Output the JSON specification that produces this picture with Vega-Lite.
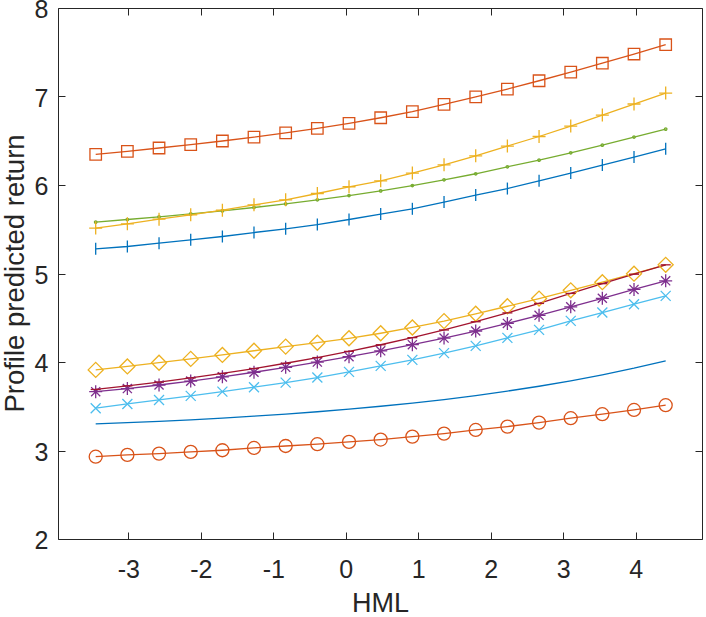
{
  "$schema": "https://vega.github.io/schema/vega-lite/v6.json",
  "width": 644,
  "height": 531,
  "autosize": {"type": "none"},
  "padding": {"left": 58, "top": 8, "right": 4, "bottom": 78},
  "background": "white",
  "config": {
    "view": {"stroke": "#262626", "strokeWidth": 1},
    "font": "Liberation Sans",
    "axis": {
      "grid": false,
      "domain": false,
      "tickColor": "#262626",
      "tickSize": -7,
      "tickWidth": 1,
      "labelColor": "#262626",
      "labelFont": "Liberation Sans",
      "labelFontSize": 25,
      "titleColor": "#262626",
      "titleFont": "Liberation Sans",
      "titleFontWeight": "normal"
    }
  },
  "data": {
    "values": [
      {"s": "plain", "x": -3.45, "y": 3.300}, {"s": "plain", "x": -3.013, "y": 3.314}, {"s": "plain", "x": -2.576, "y": 3.330}, {"s": "plain", "x": -2.139, "y": 3.347}, {"s": "plain", "x": -1.702, "y": 3.366}, {"s": "plain", "x": -1.266, "y": 3.388}, {"s": "plain", "x": -0.829, "y": 3.412}, {"s": "plain", "x": -0.392, "y": 3.438}, {"s": "plain", "x": 0.045, "y": 3.467}, {"s": "plain", "x": 0.482, "y": 3.500}, {"s": "plain", "x": 0.919, "y": 3.536}, {"s": "plain", "x": 1.356, "y": 3.576}, {"s": "plain", "x": 1.793, "y": 3.621}, {"s": "plain", "x": 2.23, "y": 3.671}, {"s": "plain", "x": 2.667, "y": 3.726}, {"s": "plain", "x": 3.104, "y": 3.787}, {"s": "plain", "x": 3.54, "y": 3.855}, {"s": "plain", "x": 3.977, "y": 3.930}, {"s": "plain", "x": 4.414, "y": 4.014},
      {"s": "circle", "x": -3.45, "y": 2.930}, {"s": "circle", "x": -3.013, "y": 2.950}, {"s": "circle", "x": -2.576, "y": 2.965}, {"s": "circle", "x": -2.139, "y": 2.984}, {"s": "circle", "x": -1.702, "y": 3.003}, {"s": "circle", "x": -1.266, "y": 3.029}, {"s": "circle", "x": -0.829, "y": 3.051}, {"s": "circle", "x": -0.392, "y": 3.071}, {"s": "circle", "x": 0.045, "y": 3.097}, {"s": "circle", "x": 0.482, "y": 3.124}, {"s": "circle", "x": 0.919, "y": 3.157}, {"s": "circle", "x": 1.356, "y": 3.191}, {"s": "circle", "x": 1.793, "y": 3.232}, {"s": "circle", "x": 2.23, "y": 3.270}, {"s": "circle", "x": 2.667, "y": 3.315}, {"s": "circle", "x": 3.104, "y": 3.365}, {"s": "circle", "x": 3.54, "y": 3.410}, {"s": "circle", "x": 3.977, "y": 3.458}, {"s": "circle", "x": 4.414, "y": 3.512},
      {"s": "diamond", "x": -3.45, "y": 3.911}, {"s": "diamond", "x": -3.013, "y": 3.950}, {"s": "diamond", "x": -2.576, "y": 3.992}, {"s": "diamond", "x": -2.139, "y": 4.035}, {"s": "diamond", "x": -1.702, "y": 4.080}, {"s": "diamond", "x": -1.266, "y": 4.127}, {"s": "diamond", "x": -0.829, "y": 4.174}, {"s": "diamond", "x": -0.392, "y": 4.218}, {"s": "diamond", "x": 0.045, "y": 4.268}, {"s": "diamond", "x": 0.482, "y": 4.325}, {"s": "diamond", "x": 0.919, "y": 4.390}, {"s": "diamond", "x": 1.356, "y": 4.462}, {"s": "diamond", "x": 1.793, "y": 4.545}, {"s": "diamond", "x": 2.23, "y": 4.630}, {"s": "diamond", "x": 2.667, "y": 4.717}, {"s": "diamond", "x": 3.104, "y": 4.810}, {"s": "diamond", "x": 3.54, "y": 4.902}, {"s": "diamond", "x": 3.977, "y": 4.998}, {"s": "diamond", "x": 4.414, "y": 5.098},
      {"s": "asterisk", "x": -3.45, "y": 3.665}, {"s": "asterisk", "x": -3.013, "y": 3.700}, {"s": "asterisk", "x": -2.576, "y": 3.740}, {"s": "asterisk", "x": -2.139, "y": 3.784}, {"s": "asterisk", "x": -1.702, "y": 3.832}, {"s": "asterisk", "x": -1.266, "y": 3.884}, {"s": "asterisk", "x": -0.829, "y": 3.940}, {"s": "asterisk", "x": -0.392, "y": 3.999}, {"s": "asterisk", "x": 0.045, "y": 4.060}, {"s": "asterisk", "x": 0.482, "y": 4.126}, {"s": "asterisk", "x": 0.919, "y": 4.196}, {"s": "asterisk", "x": 1.356, "y": 4.270}, {"s": "asterisk", "x": 1.793, "y": 4.350}, {"s": "asterisk", "x": 2.23, "y": 4.436}, {"s": "asterisk", "x": 2.667, "y": 4.527}, {"s": "asterisk", "x": 3.104, "y": 4.623}, {"s": "asterisk", "x": 3.54, "y": 4.720}, {"s": "asterisk", "x": 3.977, "y": 4.820}, {"s": "asterisk", "x": 4.414, "y": 4.917},
      {"s": "dot", "x": -3.45, "y": 5.581}, {"s": "dot", "x": -3.013, "y": 5.610}, {"s": "dot", "x": -2.576, "y": 5.640}, {"s": "dot", "x": -2.139, "y": 5.674}, {"s": "dot", "x": -1.702, "y": 5.708}, {"s": "dot", "x": -1.266, "y": 5.746}, {"s": "dot", "x": -0.829, "y": 5.787}, {"s": "dot", "x": -0.392, "y": 5.833}, {"s": "dot", "x": 0.045, "y": 5.881}, {"s": "dot", "x": 0.482, "y": 5.934}, {"s": "dot", "x": 0.919, "y": 5.994}, {"s": "dot", "x": 1.356, "y": 6.059}, {"s": "dot", "x": 1.793, "y": 6.127}, {"s": "dot", "x": 2.23, "y": 6.206}, {"s": "dot", "x": 2.667, "y": 6.281}, {"s": "dot", "x": 3.104, "y": 6.364}, {"s": "dot", "x": 3.54, "y": 6.451}, {"s": "dot", "x": 3.977, "y": 6.542}, {"s": "dot", "x": 4.414, "y": 6.632},
      {"s": "cross", "x": -3.45, "y": 3.478}, {"s": "cross", "x": -3.013, "y": 3.526}, {"s": "cross", "x": -2.576, "y": 3.571}, {"s": "cross", "x": -2.139, "y": 3.617}, {"s": "cross", "x": -1.702, "y": 3.665}, {"s": "cross", "x": -1.266, "y": 3.715}, {"s": "cross", "x": -0.829, "y": 3.767}, {"s": "cross", "x": -0.392, "y": 3.824}, {"s": "cross", "x": 0.045, "y": 3.888}, {"s": "cross", "x": 0.482, "y": 3.956}, {"s": "cross", "x": 0.919, "y": 4.024}, {"s": "cross", "x": 1.356, "y": 4.100}, {"s": "cross", "x": 1.793, "y": 4.182}, {"s": "cross", "x": 2.23, "y": 4.273}, {"s": "cross", "x": 2.667, "y": 4.363}, {"s": "cross", "x": 3.104, "y": 4.465}, {"s": "cross", "x": 3.54, "y": 4.559}, {"s": "cross", "x": 3.977, "y": 4.653}, {"s": "cross", "x": 4.414, "y": 4.747},
      {"s": "dash", "x": -3.45, "y": 3.690}, {"s": "dash", "x": -3.013, "y": 3.730}, {"s": "dash", "x": -2.576, "y": 3.773}, {"s": "dash", "x": -2.139, "y": 3.820}, {"s": "dash", "x": -1.702, "y": 3.871}, {"s": "dash", "x": -1.266, "y": 3.926}, {"s": "dash", "x": -0.829, "y": 3.986}, {"s": "dash", "x": -0.392, "y": 4.050}, {"s": "dash", "x": 0.045, "y": 4.120}, {"s": "dash", "x": 0.482, "y": 4.195}, {"s": "dash", "x": 0.919, "y": 4.275}, {"s": "dash", "x": 1.356, "y": 4.362}, {"s": "dash", "x": 1.793, "y": 4.455}, {"s": "dash", "x": 2.23, "y": 4.555}, {"s": "dash", "x": 2.667, "y": 4.662}, {"s": "dash", "x": 3.104, "y": 4.775}, {"s": "dash", "x": 3.54, "y": 4.885}, {"s": "dash", "x": 3.977, "y": 4.992}, {"s": "dash", "x": 4.414, "y": 5.098},
      {"s": "vbar", "x": -3.45, "y": 5.279}, {"s": "vbar", "x": -3.013, "y": 5.305}, {"s": "vbar", "x": -2.576, "y": 5.343}, {"s": "vbar", "x": -2.139, "y": 5.380}, {"s": "vbar", "x": -1.702, "y": 5.418}, {"s": "vbar", "x": -1.266, "y": 5.463}, {"s": "vbar", "x": -0.829, "y": 5.505}, {"s": "vbar", "x": -0.392, "y": 5.553}, {"s": "vbar", "x": 0.045, "y": 5.610}, {"s": "vbar", "x": 0.482, "y": 5.671}, {"s": "vbar", "x": 0.919, "y": 5.731}, {"s": "vbar", "x": 1.356, "y": 5.807}, {"s": "vbar", "x": 1.793, "y": 5.886}, {"s": "vbar", "x": 2.23, "y": 5.960}, {"s": "vbar", "x": 2.667, "y": 6.047}, {"s": "vbar", "x": 3.104, "y": 6.135}, {"s": "vbar", "x": 3.54, "y": 6.225}, {"s": "vbar", "x": 3.977, "y": 6.315}, {"s": "vbar", "x": 4.414, "y": 6.409},
      {"s": "square", "x": -3.45, "y": 6.345}, {"s": "square", "x": -3.013, "y": 6.380}, {"s": "square", "x": -2.576, "y": 6.418}, {"s": "square", "x": -2.139, "y": 6.456}, {"s": "square", "x": -1.702, "y": 6.497}, {"s": "square", "x": -1.266, "y": 6.541}, {"s": "square", "x": -0.829, "y": 6.589}, {"s": "square", "x": -0.392, "y": 6.640}, {"s": "square", "x": 0.045, "y": 6.697}, {"s": "square", "x": 0.482, "y": 6.760}, {"s": "square", "x": 0.919, "y": 6.830}, {"s": "square", "x": 1.356, "y": 6.910}, {"s": "square", "x": 1.793, "y": 6.995}, {"s": "square", "x": 2.23, "y": 7.084}, {"s": "square", "x": 2.667, "y": 7.178}, {"s": "square", "x": 3.104, "y": 7.275}, {"s": "square", "x": 3.54, "y": 7.376}, {"s": "square", "x": 3.977, "y": 7.480}, {"s": "square", "x": 4.414, "y": 7.585},
      {"s": "plus", "x": -3.45, "y": 5.513}, {"s": "plus", "x": -3.013, "y": 5.561}, {"s": "plus", "x": -2.576, "y": 5.614}, {"s": "plus", "x": -2.139, "y": 5.663}, {"s": "plus", "x": -1.702, "y": 5.716}, {"s": "plus", "x": -1.266, "y": 5.776}, {"s": "plus", "x": -0.829, "y": 5.833}, {"s": "plus", "x": -0.392, "y": 5.904}, {"s": "plus", "x": 0.045, "y": 5.980}, {"s": "plus", "x": 0.482, "y": 6.047}, {"s": "plus", "x": 0.919, "y": 6.135}, {"s": "plus", "x": 1.356, "y": 6.228}, {"s": "plus", "x": 1.793, "y": 6.330}, {"s": "plus", "x": 2.23, "y": 6.440}, {"s": "plus", "x": 2.667, "y": 6.548}, {"s": "plus", "x": 3.104, "y": 6.666}, {"s": "plus", "x": 3.54, "y": 6.790}, {"s": "plus", "x": 3.977, "y": 6.915}, {"s": "plus", "x": 4.414, "y": 7.039}
    ]
  },
  "encoding": {
    "x": {
      "field": "x",
      "type": "quantitative",
      "scale": {"domain": [-3.97, 4.915], "nice": false, "zero": false}
    },
    "y": {
      "field": "y",
      "type": "quantitative",
      "scale": {"domain": [2, 8], "nice": false, "zero": false}
    },
    "color": {
      "field": "s",
      "type": "nominal",
      "legend": null,
      "scale": {
        "domain": ["plain", "circle", "diamond", "asterisk", "dot", "cross", "dash", "vbar", "square", "plus"],
        "range": ["#0072BD", "#D95319", "#EDB120", "#7E2F8E", "#77AC30", "#4DBEEE", "#A2142F", "#0072BD", "#D95319", "#EDB120"]
      }
    }
  },
  "layer": [
    {
      "mark": {"type": "line", "strokeWidth": 1.3},
      "encoding": {
        "x": {
          "field": "x",
          "type": "quantitative",
          "axis": {
            "orient": "bottom",
            "values": [-3, -2, -1, 0, 1, 2, 3, 4],
            "labelExpr": "'' + datum.value",
            "labelPadding": 45,
            "labelBaseline": "alphabetic",
            "title": "HML",
            "titleFontSize": 27,
            "titleBaseline": "alphabetic",
            "titleAlign": "center",
            "titleX": 322,
            "titleY": 72
          }
        },
        "y": {
          "field": "y",
          "type": "quantitative",
          "axis": {
            "orient": "left",
            "values": [2, 3, 4, 5, 6, 7, 8],
            "labelPadding": 17,
            "labelOffset": 1.5,
            "title": "Profile predicted return",
            "titleFontSize": 27.5,
            "titleBaseline": "alphabetic",
            "titleAlign": "center",
            "titleAngle": -90,
            "titleX": -35,
            "titleY": 265
          }
        }
      }
    },
    {
      "transform": [{"filter": "datum.s !== 'plain'"}],
      "mark": {"type": "point", "filled": false, "strokeWidth": 1.3, "opacity": 1},
      "encoding": {
        "x": {
          "field": "x",
          "type": "quantitative",
          "axis": {"orient": "top", "values": [-3, -2, -1, 0, 1, 2, 3, 4], "labels": false, "title": null}
        },
        "y": {
          "field": "y",
          "type": "quantitative",
          "axis": {"orient": "right", "values": [2, 3, 4, 5, 6, 7, 8], "labels": false, "title": null}
        },
        "shape": {
          "field": "s",
          "type": "nominal",
          "legend": null,
          "scale": {
            "domain": ["circle", "diamond", "asterisk", "dot", "cross", "dash", "vbar", "square", "plus"],
            "range": ["circle", "diamond", "M-1,0H1M0,-1V1M-0.7,-0.7L0.7,0.7M-0.7,0.7L0.7,-0.7", "circle", "M-1,-1L1,1M-1,1L1,-1", "M-1,0H1", "M0,-1V1", "square", "M-1,0H1M0,-1V1"]
          }
        },
        "size": {
          "field": "s",
          "type": "nominal",
          "legend": null,
          "scale": {
            "type": "ordinal",
            "domain": ["circle", "diamond", "asterisk", "dot", "cross", "dash", "vbar", "square", "plus"],
            "range": [169, 225, 169, 6, 100, 100, 144, 132, 169]
          }
        }
      }
    }
  ],
  "resolve": {"axis": {"x": "independent", "y": "independent"}}
}
